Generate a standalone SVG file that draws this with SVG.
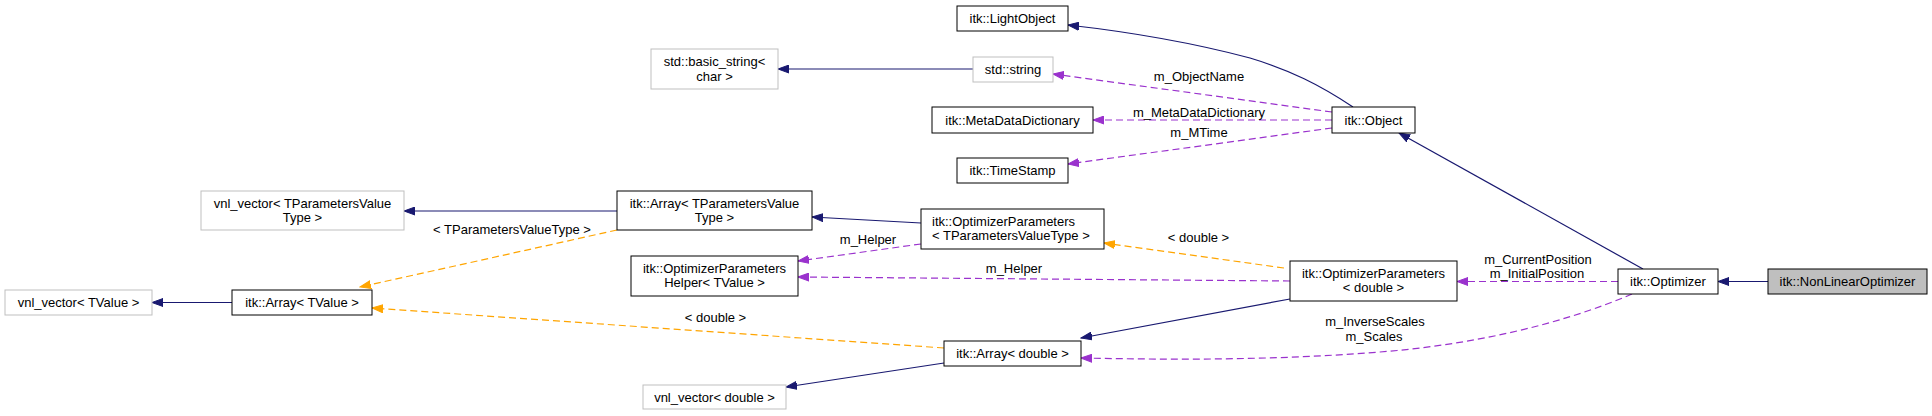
<svg xmlns="http://www.w3.org/2000/svg" width="1932" height="416" viewBox="0 0 1932 416">
<style>
text{font-family:"Liberation Sans",Arial,sans-serif;font-size:13px;fill:#000;text-anchor:middle}
.n rect{fill:#fff;stroke:#000;stroke-width:1}
.g rect{fill:#fff;stroke:#bfbfbf;stroke-width:1}
.b{fill:none;stroke:#191970;stroke-width:1.2}
.p{fill:none;stroke:#9a32cd;stroke-width:1.2;stroke-dasharray:7,4}
.o{fill:none;stroke:#ffa500;stroke-width:1.2;stroke-dasharray:7,4}
.lt{text-anchor:start}
</style>
<defs>
<marker id="ab" markerUnits="userSpaceOnUse" markerWidth="12" markerHeight="9" refX="11" refY="4.5" orient="auto"><path d="M0,0.5 L11,4.5 L0,8.5 z" fill="#191970" stroke="#191970"/></marker>
<marker id="ap" markerUnits="userSpaceOnUse" markerWidth="12" markerHeight="9" refX="11" refY="4.5" orient="auto"><path d="M0,0.5 L11,4.5 L0,8.5 z" fill="#9a32cd" stroke="#9a32cd"/></marker>
<marker id="ao" markerUnits="userSpaceOnUse" markerWidth="12" markerHeight="9" refX="11" refY="4.5" orient="auto"><path d="M0,0.5 L11,4.5 L0,8.5 z" fill="#ffa500" stroke="#ffa500"/></marker>
</defs>
<rect width="1932" height="416" fill="#fff"/>
<g id="edges">
<path class="b" marker-end="url(#ab)" d="M1353,107 C1320,85 1290,70 1250,58 C1190,42 1130,32 1068,25"/>
<path class="b" marker-end="url(#ab)" d="M973,69 L778,69"/>
<path class="b" marker-end="url(#ab)" d="M617,211 L404,211"/>
<path class="b" marker-end="url(#ab)" d="M232,302.5 L152,302.5"/>
<path class="b" marker-end="url(#ab)" d="M921,223 L812,217"/>
<path class="b" marker-end="url(#ab)" d="M944,363 L786,387"/>
<path class="b" marker-end="url(#ab)" d="M1290,299 L1081,338"/>
<path class="b" marker-end="url(#ab)" d="M1643,269 L1399,133"/>
<path class="b" marker-end="url(#ab)" d="M1768,281.5 L1718,281.5"/>
<path class="p" marker-end="url(#ap)" d="M1332,112 L1053,74"/>
<path class="p" marker-end="url(#ap)" d="M1332,120 L1093,120"/>
<path class="p" marker-end="url(#ap)" d="M1332,128 L1068,164"/>
<path class="p" marker-end="url(#ap)" d="M921,244 L798,261"/>
<path class="p" marker-end="url(#ap)" d="M1290,281 L798,277"/>
<path class="p" marker-end="url(#ap)" d="M1618,281.5 L1457,281.5"/>
<path class="p" marker-end="url(#ap)" d="M1632,294 C1560,325 1470,345 1380,352 C1280,360 1180,360 1081,358"/>
<path class="o" marker-end="url(#ao)" d="M1284,268 L1104,243"/>
<path class="o" marker-end="url(#ao)" d="M617,230 L360,287"/>
<path class="o" marker-end="url(#ao)" d="M944,348 L372,308"/>
<text x="512" y="233.5">&lt; TParametersValueType &gt;</text>
<text x="1199" y="80.5">m_ObjectName</text>
<text x="1199" y="116.5">m_MetaDataDictionary</text>
<text x="1199" y="136.5">m_MTime</text>
<text x="868" y="243.5">m_Helper</text>
<text x="1014" y="272.5">m_Helper</text>
<text x="1198.5" y="241.5">&lt; double &gt;</text>
<text x="715.5" y="321.5">&lt; double &gt;</text>
<text x="1538" y="263.5">m_CurrentPosition</text>
<text x="1537" y="277.5">m_InitialPosition</text>
<text x="1375" y="325.5">m_InverseScales</text>
<text x="1374" y="340.5">m_Scales</text>
</g>
<g id="LightObject" class="n"><rect x="957" y="6" width="111" height="25"/><text x="1012.5" y="23">itk::LightObject</text></g>
<g id="stdstring" class="g"><rect x="973" y="57" width="80" height="25"/><text x="1013" y="74">std::string</text></g>
<g id="basicstring" class="g"><rect x="651" y="49" width="127" height="40"/><text x="714.5" y="65.5">std::basic_string&lt;</text><text x="714.5" y="80.5">char &gt;</text></g>
<g id="MetaDataDictionary" class="n"><rect x="932" y="107" width="161" height="26"/><text x="1012.5" y="124.5">itk::MetaDataDictionary</text></g>
<g id="TimeStamp" class="n"><rect x="957" y="158" width="111" height="25"/><text x="1012.5" y="175">itk::TimeStamp</text></g>
<g id="Object" class="n"><rect x="1332" y="107" width="83" height="26"/><text x="1373.5" y="124.5">itk::Object</text></g>
<g id="ArrayTPVT" class="n"><rect x="617" y="191" width="195" height="39"/><text x="714.5" y="207.5">itk::Array&lt; TParametersValue</text><text x="714.5" y="221.5">Type &gt;</text></g>
<g id="vnlTPVT" class="g"><rect x="201" y="191" width="203" height="39"/><text x="302.5" y="207.5">vnl_vector&lt; TParametersValue</text><text x="302.5" y="221.5">Type &gt;</text></g>
<g id="OptParamsTPVT" class="n"><rect x="921" y="209" width="183" height="40"/><text class="lt" x="932" y="225.5">itk::OptimizerParameters</text><text class="lt" x="932" y="239.5">&lt; TParametersValueType &gt;</text></g>
<g id="Helper" class="n"><rect x="631" y="256" width="167" height="40"/><text x="714.5" y="272.5">itk::OptimizerParameters</text><text x="714.5" y="286.5">Helper&lt; TValue &gt;</text></g>
<g id="vnlTValue" class="g"><rect x="5" y="290" width="147" height="25"/><text x="78.5" y="307">vnl_vector&lt; TValue &gt;</text></g>
<g id="ArrayTValue" class="n"><rect x="232" y="290" width="140" height="25"/><text x="302" y="307">itk::Array&lt; TValue &gt;</text></g>
<g id="OptParamsDouble" class="n"><rect x="1290" y="261" width="167" height="40"/><text x="1373.5" y="277.5">itk::OptimizerParameters</text><text x="1373.5" y="291.5">&lt; double &gt;</text></g>
<g id="ArrayDouble" class="n"><rect x="944" y="341" width="137" height="25"/><text x="1012.5" y="358">itk::Array&lt; double &gt;</text></g>
<g id="vnlDouble" class="g"><rect x="643" y="385" width="143" height="24"/><text x="714.5" y="401.5">vnl_vector&lt; double &gt;</text></g>
<g id="Optimizer" class="n"><rect x="1618" y="269" width="100" height="25"/><text x="1668" y="286">itk::Optimizer</text></g>
<g id="NonLinearOptimizer" class="n"><rect x="1768" y="269" width="159" height="25" style="fill:#bfbfbf"/><text x="1847.5" y="286">itk::NonLinearOptimizer</text></g>
</svg>
